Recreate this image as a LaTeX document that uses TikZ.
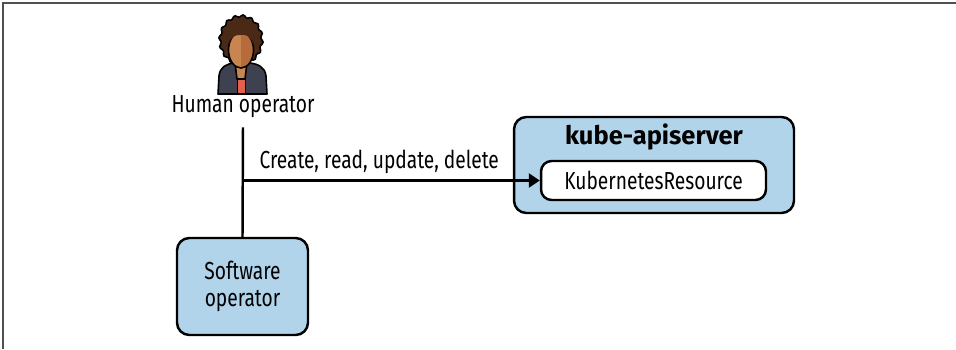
\documentclass[tikz,border=0pt]{standalone}
\usepackage{fontspec}
\setmainfont[FakeStretch=0.78,BoldFeatures={FakeStretch=1.0}]{Fira Sans}
\usetikzlibrary{arrows.meta}
\definecolor{boxblue}{HTML}{B1D4EA}
\definecolor{framegray}{HTML}{505050}
\definecolor{hairbrown}{HTML}{4A2A17}
\definecolor{skin}{HTML}{C98550}
\definecolor{skindark}{HTML}{B56B3C}
\definecolor{suit}{HTML}{3E4150}
\definecolor{shirt}{HTML}{E5604A}

\begin{document}
\begin{tikzpicture}[x=0.02cm,y=-0.02cm,>={Triangle[length=0.22cm,width=0.28cm]},
    every node/.style={font=\fontsize{14}{15}\selectfont},
    box/.style={draw,line width=1.4pt,rounded corners=7pt,fill=boxblue},
    icon/.style={draw=black,line width=0.9pt,line join=round}]
    \useasboundingbox (0,0) rectangle (956,349);
    \draw[framegray,line width=1.3pt] (3,349) -- (3,3) -- (956,3);

    % person icon
    \filldraw[icon,fill=hairbrown] plot[smooth cycle,domain=0:355,samples=72]
        ({241+(21+1.2*sin(16*\x))*cos(\x)},{40+(24+1.2*sin(16*\x))*sin(\x)});
    \filldraw[icon,fill=suit] (218,94) -- (219,76) .. controls (220,67) and (226,64) .. (234,63)
        -- (250,63) .. controls (258,64) and (265,67) .. (266,76) -- (267,94) -- cycle;
    \filldraw[icon,fill=skin] (235,63) -- (247,63) -- (245,79) -- (237,79) -- cycle;
    \filldraw[icon,fill=shirt] (237.5,79) rectangle (245.5,94);
    \fill[skin] (241,50) ellipse [x radius=12.5,y radius=18];
    \begin{scope}
        \clip (241,25) rectangle (260,75);
        \fill[skindark] (241,50) ellipse [x radius=12.5,y radius=18];
    \end{scope}
    \draw[icon] (241,50) ellipse [x radius=12.5,y radius=18];
    \fill[hairbrown] (229,44) .. controls (230,34) and (236,30) .. (241,30)
        .. controls (247,30) and (252,34) .. (253,44) .. controls (250,36) and (246,34) .. (241,35)
        .. controls (236,34) and (231,37) .. (229,44) -- cycle;

    \node (humanlbl) at (243,107) {Human operator};
    \node[box,minimum width=2.62cm,minimum height=1.94cm,align=center] (sw) at (242.5,286.5) {Software\\operator};
    \node[box,minimum width=5.6cm,minimum height=1.92cm] (api) at (654,165) {};
    \node[font=\bfseries\fontsize{14.5}{16}\selectfont] (apilbl) at (654,137) {kube-apiserver};
    \node[box,fill=white,rounded corners=6pt,minimum width=4.5cm,minimum height=0.78cm] (res) at (653.5,180.5) {KubernetesResource};

    \draw[line width=1.4pt,shorten <=0.06cm] (humanlbl.south) -- (sw.north);
    \draw[->,line width=1.4pt] (sw.north |- res.west) --node[above,pos=0.46]{Create, read, update, delete} (res.west);
\end{tikzpicture}
\end{document}
